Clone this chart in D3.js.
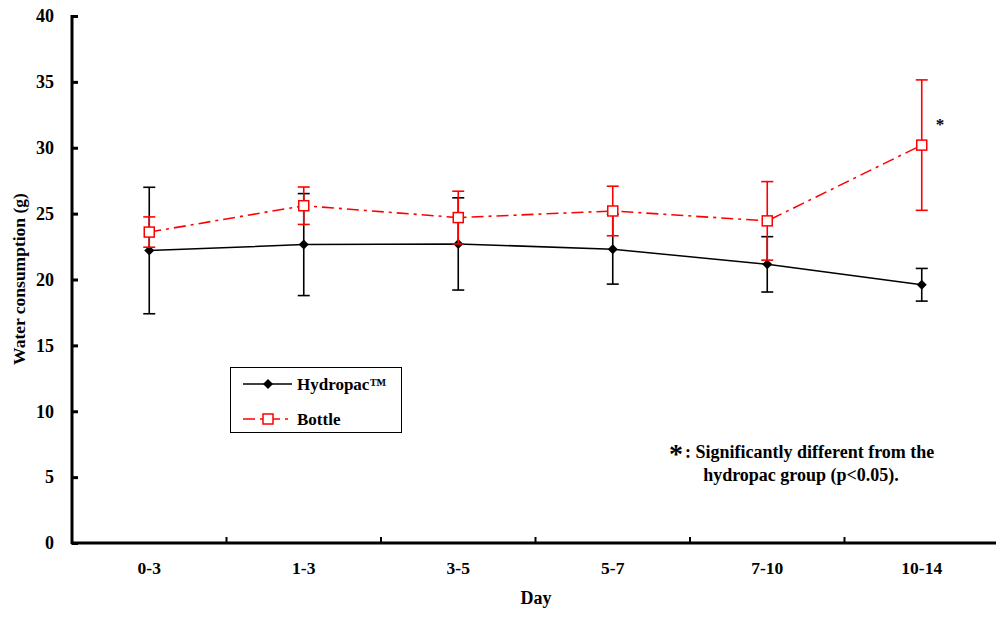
<!DOCTYPE html>
<meta charset="utf-8">
<head>
<style>
body { margin: 0; background: #fff; }
</style>
</head>
<body>
<script src="https://d3js.org/d3.v7.min.js"></script>
<div id="chart"></div>
<script>
var days = ["0-3", "1-3", "3-5", "5-7", "7-10", "10-14"];
var hydroMean = [22.2, 22.65, 22.7, 22.3, 21.15, 19.6];
var hydroErr = [4.8, 3.87, 3.5, 2.65, 2.1, 1.24];
var bottleMean = [23.6, 25.6, 24.7, 25.2, 24.45, 30.2];
var bottleErr = [1.15, 1.42, 2.0, 1.88, 2.98, 4.95];
var yTicks = [0, 5, 10, 15, 20, 25, 30, 35, 40];

var width = 997, height = 617;
var FONT = "'Liberation Serif', 'Times New Roman', serif";

var svg = d3.select('#chart').append('svg')
    .attr('width', width)
    .attr('height', height);

var x = d3.scaleBand().domain(days).range([72, 999]);
var y = d3.scaleLinear().domain([0, 40]).range([543, 16]);

function txt(sel, size) {
  return sel.style('font-family', FONT).style('font-weight', 'bold')
      .style('font-size', size + 'px').attr('fill', '#000');
}

// y axis
var yAxis = svg.append('g').attr('transform', 'translate(72,0)')
    .call(d3.axisLeft(y).tickValues(yTicks).tickSize(-6).tickPadding(18));
yAxis.select('.domain').attr('stroke-width', 3).attr('d', 'M0,15V544');
yAxis.selectAll('.tick line').attr('stroke-width', 3);
txt(yAxis.selectAll('.tick text'), 18);

// x axis
var xAxis = svg.append('g').attr('transform', 'translate(0,543)')
    .call(d3.axisBottom(x).tickSize(0).tickPadding(19));
xAxis.select('.domain').attr('stroke-width', 3).attr('d', 'M71,0H996');
txt(xAxis.selectAll('.tick text'), 17.5);
svg.append('g').selectAll('line')
    .data(days.slice(1))
    .enter().append('line')
    .attr('x1', function(d) { return x(d); })
    .attr('x2', function(d) { return x(d); })
    .attr('y1', 543).attr('y2', 537)
    .attr('stroke', '#000').attr('stroke-width', 2);

// axis titles
txt(svg.append('text'), 17.5)
    .attr('transform', 'translate(25,279) rotate(-90)')
    .attr('text-anchor', 'middle')
    .text('Water consumption (g)');
txt(svg.append('text'), 18)
    .attr('x', 536).attr('y', 604)
    .attr('text-anchor', 'middle')
    .text('Day');

function cx(i) { return x(days[i]) + x.bandwidth() / 2; }

function drawSeries(means, errs, color, dash, width) {
  var g = svg.append('g');
  g.selectAll('line.err')
      .data(means)
      .enter().append('line')
      .attr('x1', function(d, i) { return cx(i); })
      .attr('x2', function(d, i) { return cx(i); })
      .attr('y1', function(d, i) { return y(d - errs[i]); })
      .attr('y2', function(d, i) { return y(d + errs[i]); })
      .attr('stroke', color).attr('stroke-width', 1.6);
  [-1, 1].forEach(function(s) {
    g.selectAll(null)
        .data(means)
        .enter().append('line')
        .attr('x1', function(d, i) { return cx(i) - 6; })
        .attr('x2', function(d, i) { return cx(i) + 6; })
        .attr('y1', function(d, i) { return y(d + s * errs[i]); })
        .attr('y2', function(d, i) { return y(d + s * errs[i]); })
        .attr('stroke', color).attr('stroke-width', 1.6);
  });
  g.append('path')
      .datum(means)
      .attr('fill', 'none')
      .attr('stroke', color)
      .attr('stroke-width', width)
      .attr('stroke-dasharray', dash)
      .attr('d', d3.line().x(function(d, i) { return cx(i); }).y(function(d) { return y(d); }));
  return g;
}

var diamond = d3.symbol().type(d3.symbolSquare).size(50);

var gH = drawSeries(hydroMean, hydroErr, '#000', null, 1.5);
gH.selectAll('path.mk')
    .data(hydroMean)
    .enter().append('path')
    .attr('d', diamond)
    .attr('transform', function(d, i) { return 'translate(' + cx(i) + ',' + y(d) + ') rotate(45)'; })
    .attr('fill', '#000');

var gB = drawSeries(bottleMean, bottleErr, '#ff0000', '12,5,3,5', 1.6);
gB.selectAll('rect.mk')
    .data(bottleMean)
    .enter().append('rect')
    .attr('x', function(d, i) { return cx(i) - 5; })
    .attr('y', function(d) { return y(d) - 5; })
    .attr('width', 10).attr('height', 10)
    .attr('fill', '#fff').attr('stroke', '#ff0000').attr('stroke-width', 1.5);

// significance star
txt(svg.append('text'), 17)
    .attr('x', 940).attr('y', 130)
    .attr('text-anchor', 'middle')
    .text('*');

// legend
var lg = svg.append('g');
lg.append('rect')
    .attr('x', 230.5).attr('y', 367.5).attr('width', 171).attr('height', 65)
    .attr('fill', '#fff').attr('stroke', '#000').attr('stroke-width', 1);
lg.append('line').attr('x1', 243).attr('x2', 292).attr('y1', 384).attr('y2', 384)
    .attr('stroke', '#000').attr('stroke-width', 1.5);
lg.append('path').attr('d', diamond)
    .attr('transform', 'translate(268,384) rotate(45)').attr('fill', '#000');
lg.append('line').attr('x1', 243).attr('x2', 292).attr('y1', 419).attr('y2', 419)
    .attr('stroke', '#ff0000').attr('stroke-width', 1.6).attr('stroke-dasharray', '12,5,3,5');
lg.append('rect').attr('x', 263).attr('y', 414).attr('width', 10).attr('height', 10)
    .attr('fill', '#fff').attr('stroke', '#ff0000').attr('stroke-width', 1.5);
txt(lg.append('text'), 17).attr('x', 297).attr('y', 390).text('Hydropac\u2122');
txt(lg.append('text'), 17).attr('x', 297).attr('y', 425).text('Bottle');

// note
txt(svg.append('text'), 28).attr('x', 669).attr('y', 463).text('*');
txt(svg.append('text'), 18).attr('x', 685).attr('y', 458)
    .text(': Significantly different from the');
txt(svg.append('text'), 18).attr('x', 801).attr('y', 481).attr('text-anchor', 'middle')
    .text('hydropac group (p<0.05).');
</script>
</body>
